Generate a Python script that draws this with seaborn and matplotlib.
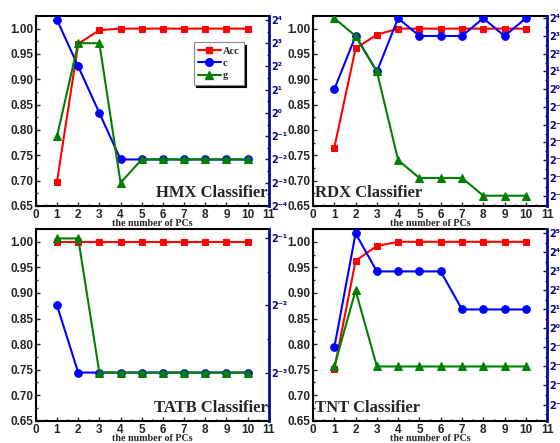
import numpy as np
import matplotlib
matplotlib.use('Agg')
import matplotlib.pyplot as plt
import seaborn as sns
from matplotlib.lines import Line2D
from matplotlib.ticker import MultipleLocator, FixedLocator, FuncFormatter

sns.set_style('ticks')

PCS = [1, 2, 3, 4, 5, 6, 7, 8, 9, 10]

# accuracy (left axis) and SVM parameters c, g (right axis, log2)
HMX_ACC = [0.698, 0.970, 0.997, 1.0, 1.0, 1.0, 1.0, 1.0, 1.0, 1.0]
HMX_C = [16, 4, 1, 0.25, 0.25, 0.25, 0.25, 0.25, 0.25, 0.25]
HMX_G = [0.5, 8, 8, 0.125, 0.25, 0.25, 0.25, 0.25, 0.25, 0.25]

RDX_ACC = [0.765, 0.961, 0.988, 1.0, 1.0, 1.0, 1.0, 1.0, 1.0, 1.0]
RDX_C = [1, 8, 2, 16, 8, 8, 8, 16, 8, 16]
RDX_G = [16, 8, 2, 1/16, 1/32, 1/32, 1/32, 1/64, 1/64, 1/64]

TATB_ACC = [1.0, 1.0, 1.0, 1.0, 1.0, 1.0, 1.0, 1.0, 1.0, 1.0]
TATB_C = [0.25, 0.125, 0.125, 0.125, 0.125, 0.125, 0.125, 0.125, 0.125, 0.125]
TATB_G = [0.5, 0.5, 0.125, 0.125, 0.125, 0.125, 0.125, 0.125, 0.125, 0.125]

TNT_ACC = [0.751, 0.963, 0.992, 1.0, 1.0, 1.0, 1.0, 1.0, 1.0, 1.0]
TNT_C = [0.5, 32, 8, 8, 8, 8, 2, 2, 2, 2]
TNT_G = [0.25, 4, 0.25, 0.25, 0.25, 0.25, 0.25, 0.25, 0.25, 0.25]

PANELS = [
    ('HMX Classifier', HMX_ACC, HMX_C, HMX_G, (-4, 4.17), 'right'),
    ('RDX Classifier', RDX_ACC, RDX_C, RDX_G, (-6.58, 4.13), 'left'),
    ('TATB Classifier', TATB_ACC, TATB_C, TATB_G, (-3.72, -0.86), 'right'),
    ('TNT Classifier', TNT_ACC, TNT_C, TNT_G, (-4.86, 5.23), 'left'),
]

# axes boxes in figure fraction: left, bottom, width, height
BOXES = [
    (0.064, 0.535, 0.416, 0.429),
    (0.559, 0.535, 0.418, 0.429),
    (0.064, 0.050, 0.416, 0.433),
    (0.559, 0.050, 0.418, 0.433),
]

NAVY = '#0a0a8c'
SERIF = 'Liberation Serif'
SANS = 'Liberation Sans'
SUP = str.maketrans('-0123456789', '⁻⁰¹²³⁴⁵⁶⁷⁸⁹')

fig = plt.figure(figsize=(5.6, 4.43), dpi=100)
fig.patch.set_facecolor('white')


def pow2_label(v, pos):
    return '2' + str(int(round(np.log2(v)))).translate(SUP)


for (name, acc, c, g, elim, side), box in zip(PANELS, BOXES):
    ax = fig.add_axes(box)
    ax2 = ax.twinx()

    sns.lineplot(x=PCS, y=acc, ax=ax, color='#ff0000', marker='s', markersize=5,
                 markeredgecolor='#ff0000', linewidth=1.5)
    sns.lineplot(x=PCS, y=c, ax=ax2, color='#0000ff', marker='o', markersize=5.5,
                 markeredgecolor='#0000ff', linewidth=1.5)
    sns.lineplot(x=PCS, y=g, ax=ax2, color='#008000', marker='^', markersize=5.5,
                 markeredgecolor='#008000', linewidth=1.5)

    ax.set_xlim(0, 11)
    ax.set_ylim(0.65, 1.025)
    ax.xaxis.set_major_locator(MultipleLocator(1))
    ax.xaxis.set_minor_locator(MultipleLocator(0.5))
    ax.yaxis.set_major_locator(MultipleLocator(0.05))
    ax.yaxis.set_minor_locator(MultipleLocator(0.025))
    ax.yaxis.set_major_formatter(FuncFormatter(lambda v, p: f'{v:.2f}'))
    ax.tick_params(axis='both', which='both', direction='in', top=False, right=False,
                   labelsize=8.5, pad=2)
    ax.tick_params(which='major', length=3, width=1)
    ax.tick_params(which='minor', length=1.5, width=1)
    for lab in ax.get_xticklabels() + ax.get_yticklabels():
        lab.set_fontfamily(SANS)
        lab.set_fontweight('bold')
    ax.set_xlabel('the number of PCs', fontfamily=SERIF, fontweight='bold',
                  fontsize=7.2, labelpad=-1)
    ax.set_ylabel('')
    for s in ['left', 'top', 'bottom']:
        ax.spines[s].set_linewidth(1.5)
        ax.spines[s].set_color('black')
    ax.spines['right'].set_visible(False)

    ax2.set_yscale('log', base=2)
    ax2.set_ylim(2.0 ** elim[0], 2.0 ** elim[1])
    majors = [2.0 ** k for k in range(int(np.ceil(elim[0])), int(np.floor(elim[1])) + 1)]
    minors = [2.0 ** (k + 0.5) for k in range(int(np.floor(elim[0])), int(np.ceil(elim[1])))]
    ax2.yaxis.set_major_locator(FixedLocator(majors))
    ax2.yaxis.set_minor_locator(FixedLocator(minors))
    ax2.yaxis.set_major_formatter(FuncFormatter(pow2_label))
    ax2.yaxis.set_minor_formatter(FuncFormatter(lambda v, p: ''))
    ax2.tick_params(axis='y', which='both', direction='in', colors=NAVY,
                    labelsize=7, pad=1.5)
    ax2.tick_params(axis='y', which='major', length=3, width=1)
    ax2.tick_params(axis='y', which='minor', length=1.5, width=1)
    for lab in ax2.get_yticklabels():
        lab.set_fontfamily('DejaVu Sans')
        lab.set_fontweight('bold')
    for s in ['left', 'top', 'bottom']:
        ax2.spines[s].set_visible(False)
    ax2.spines['right'].set_color(NAVY)
    ax2.spines['right'].set_linewidth(2)
    ax2.set_ylabel('')

    if side == 'right':
        ax.text(0.995, 0.025, name, transform=ax.transAxes, ha='right', va='bottom',
                fontfamily=SERIF, fontweight='bold', fontsize=12, zorder=5)
    else:
        ax.text(0.01, 0.025, name, transform=ax.transAxes, ha='left', va='bottom',
                fontfamily=SERIF, fontweight='bold', fontsize=12, zorder=5)

    if name.startswith('HMX'):
        handles = [
            Line2D([], [], color='#ff0000', marker='s', markersize=5, linewidth=1.5),
            Line2D([], [], color='#0000ff', marker='o', markersize=5.5, linewidth=1.5),
            Line2D([], [], color='#008000', marker='^', markersize=5.5, linewidth=1.5),
        ]
        leg = ax2.legend(handles, ['Acc', 'c', 'g'], loc='upper left',
                         bbox_to_anchor=(0.655, 0.89), frameon=True, fancybox=False,
                         shadow={'color': 'black', 'alpha': 1}, edgecolor='#888888',
                         framealpha=1, handlelength=2.2, handletextpad=0.2,
                         borderpad=0.4, labelspacing=0.3,
                         prop={'family': SERIF, 'weight': 'bold', 'size': 7.5})
        leg.get_frame().set_linewidth(0.8)

fig.savefig('out.png', dpi=100, facecolor='white')
